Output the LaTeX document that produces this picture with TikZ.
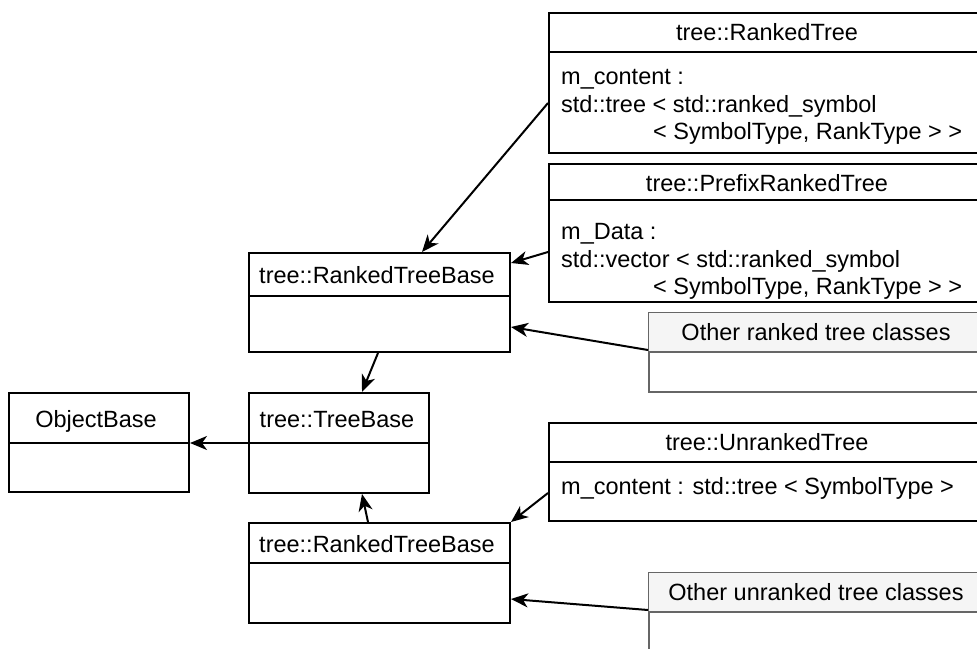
\documentclass[tikz,border=0pt]{standalone}
\usepackage{fontspec}
\setmainfont{Liberation Sans}
\usetikzlibrary{arrows.meta,calc}
\definecolor{grayline}{HTML}{666666}
\definecolor{grayfill}{HTML}{F5F5F5}
\begin{document}
\begin{tikzpicture}[x=1pt,y=-1pt,
  cls/.style={draw=black, line width=2pt, fill=white, inner sep=0pt, anchor=north west},
  gcls/.style={draw=grayline, line width=1.5pt, fill=white, inner sep=0pt, anchor=north west},
  divider/.style={draw=black, line width=2pt},
  gdivider/.style={draw=grayline, line width=1.5pt},
  arr/.style={draw=black, line width=2pt, -{Stealth[length=17pt,width=14pt,inset=5pt]}},
  lbl/.style={anchor=base, inner sep=0pt, font=\fontsize{23.5}{27.5}\selectfont},
  lbll/.style={anchor=base west, inner sep=0pt, font=\fontsize{23.5}{27.5}\selectfont}]
\useasboundingbox (0,0) rectangle (977,648);
\clip (0,0) rectangle (977,648);
\fill[white] (0,0) rectangle (977,648);

% ---- boxes ----
\node[cls, minimum width=438pt, minimum height=140pt] (rt) at (548,12) {};
\draw[divider] ($(rt.north west)+(0,40)$) -- ($(rt.north east)+(0,40)$);
\node[lbl] (rtT) at (767,40) {tree::RankedTree};
\node[lbll] (rtA) at (561,84) {m\_content :};
\node[lbll] (rtB) at (561,112) {std::tree < std::ranked\_symbol};
\node[lbll] (rtC) at (653,139) {< SymbolType, RankType > >};

\node[cls, minimum width=438pt, minimum height=138pt] (prt) at (548,163) {};
\draw[divider] ($(prt.north west)+(0,37)$) -- ($(prt.north east)+(0,37)$);
\node[lbl] (prtT) at (767,191) {tree::PrefixRankedTree};
\node[lbll] (prtA) at (561,239) {m\_Data :};
\node[lbll] (prtB) at (561,267) {std::vector < std::ranked\_symbol};
\node[lbll] (prtC) at (653,294) {< SymbolType, RankType > >};

\node[cls, minimum width=261pt, minimum height=99pt] (rtb1) at (248,252) {};
\draw[divider] ($(rtb1.north west)+(0,44)$) -- ($(rtb1.north east)+(0,44)$);
\node[lbl] (rtb1T) at (377,283) {tree::RankedTreeBase};

\node[gcls, minimum width=338pt, minimum height=79pt] (orc) at (648,312) {};
\fill[grayfill] ($(orc.north west)+(0.75,0.75)$) rectangle ($(orc.north east)+(-0.75,40)$);
\draw[gdivider] ($(orc.north west)+(0,40)$) -- ($(orc.north east)+(0,40)$);
\node[lbl] (orcT) at (816,340) {Other ranked tree classes};

\node[cls, minimum width=180pt, minimum height=99pt] (ob) at (8,392) {};
\draw[divider] ($(ob.north west)+(0,51)$) -- ($(ob.north east)+(0,51)$);
\node[lbl] (obT) at (96,427) {ObjectBase};

\node[cls, minimum width=180pt, minimum height=100pt] (tb) at (248,392) {};
\draw[divider] ($(tb.north west)+(0,51)$) -- ($(tb.north east)+(0,51)$);
\node[lbl] (tbT) at (337,427) {tree::TreeBase};

\node[cls, minimum width=438pt, minimum height=98pt] (urt) at (548,422) {};
\draw[divider] ($(urt.north west)+(0,40)$) -- ($(urt.north east)+(0,40)$);
\node[lbl] (urtT) at (767,450) {tree::UnrankedTree};
\node[lbll] (urtA) at (561,494) {m\_content : std::tree < SymbolType >};

\node[cls, minimum width=261pt, minimum height=100pt] (rtb2) at (248,522) {};
\draw[divider] ($(rtb2.north west)+(0,41)$) -- ($(rtb2.north east)+(0,41)$);
\node[lbl] (rtb2T) at (377,552) {tree::RankedTreeBase};

\node[gcls, minimum width=338pt, minimum height=82pt] (ouc) at (648,572) {};
\fill[grayfill] ($(ouc.north west)+(0.75,0.75)$) rectangle ($(ouc.north east)+(-0.75,40)$);
\draw[gdivider] ($(ouc.north west)+(0,40)$) -- ($(ouc.north east)+(0,40)$);
\node[lbl] (oucT) at (816,600) {Other unranked tree classes};

% ---- connectors ----
\draw[arr] ($(rt.north west)+(0,91)$) -- ($(rtb1.north west)+(174,0)$);
\draw[arr] ($(prt.north west)+(0,89)$) -- ($(rtb1.north east)+(0,11)$);
\draw[arr] ($(orc.north west)+(0,38)$) -- ($(rtb1.north east)+(0,75)$);
\draw[arr] ($(rtb1.south west)+(130,0)$) -- ($(tb.north west)+(114,0)$);
\draw[arr] ($(tb.north west)+(0,51)$) -- ($(ob.north east)+(0,51)$);
\draw[arr] ($(rtb2.north west)+(120,0)$) -- ($(tb.south west)+(114,0)$);
\draw[arr] ($(urt.north west)+(0,71)$) -- (rtb2.north east);
\draw[arr] ($(ouc.north west)+(0,38)$) -- ($(rtb2.north east)+(0,77)$);
\end{tikzpicture}
\end{document}
